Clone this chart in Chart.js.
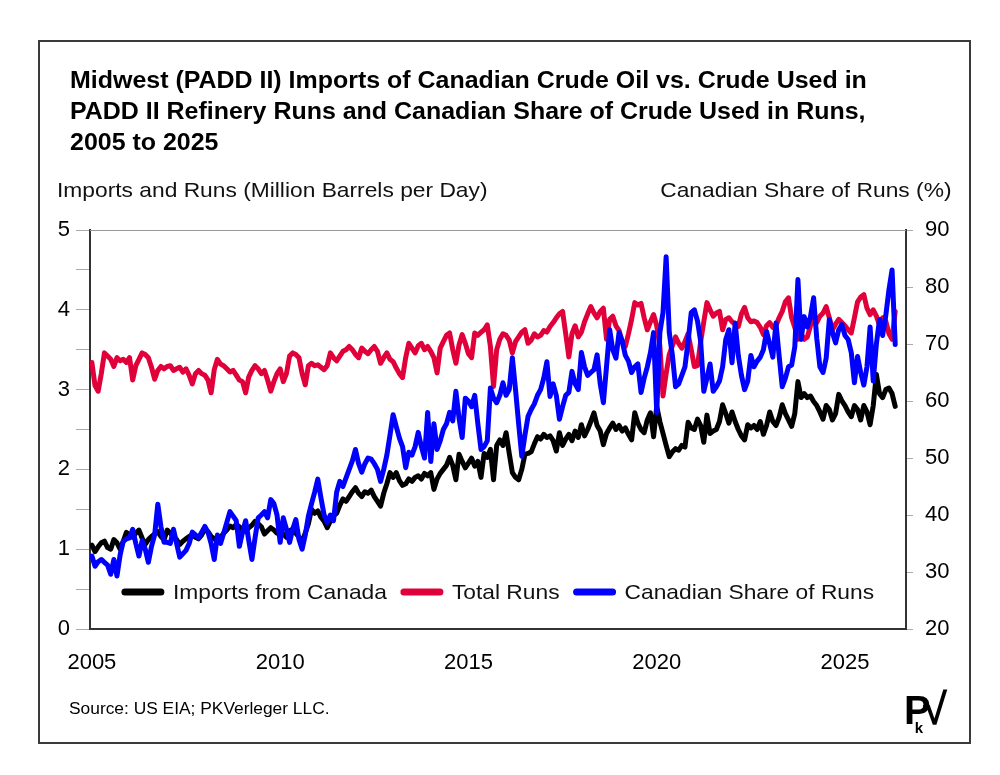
<!DOCTYPE html>
<html>
<head>
<meta charset="utf-8">
<script src="https://cdn.jsdelivr.net/npm/chart.js@4.4.1/dist/chart.umd.min.js"></script>
<style>
  body { margin: 0; background: #fff; font-family: 'Liberation Sans', Arial, sans-serif; }
  #wrap { position: relative; width: 1000px; height: 775px; }
  #chart { position: absolute; left: 0; top: 0; }
  .frame { position: absolute; left: 38px; top: 40px; width: 929px; height: 700px; border: 2px solid #3a3a3a; }
  .wide { transform: scaleX(1.085); white-space: nowrap; }
  .title { position: absolute; left: 70px; top: 65px; font-weight: bold; font-size: 23px; line-height: 31px; color: #000; transform-origin: left top; }
  .axis-title { position: absolute; top: 178px; font-size: 21px; color: #111; }
  .source { position: absolute; left: 69px; top: 700px; font-size: 16px; color: #000; transform-origin: left top; }
  .logo { position: absolute; left: 904px; top: 684px; font-weight: bold; color: #000; }
</style>
</head>
<body>
<div id="wrap">
  <canvas id="chart" width="1000" height="775"></canvas>
  <div class="frame"></div>
  <div class="title wide">Midwest (PADD II) Imports of Canadian Crude Oil vs. Crude Used in<br>PADD II Refinery Runs and Canadian Share of Crude Used in Runs,<br>2005 to 2025</div>
  <div class="axis-title wide" style="left:57px;transform-origin:left top;">Imports and Runs (Million Barrels per Day)</div>
  <div class="axis-title wide" style="right:49px;transform-origin:right top;">Canadian Share of Runs (%)</div>
  <div class="source wide">Source: US EIA; PKVerleger LLC.</div>
  <div class="logo"><span style="font-size:40px;letter-spacing:-2px;">P</span><span style="font-size:15px;position:relative;left:-14px;top:9px;">k</span><span style="font-size:44px;position:relative;left:-14px;">&#8730;</span></div>
</div>
<script>
// Monthly series, starting January 2005
const START_YEAR = 2005;

// Imports from Canada (million b/d)
const imports = [
  1.05, 0.97, 1.03, 1.08, 1.10, 1.02, 1.00, 1.12, 1.08, 1.00, 1.10, 1.21,
  1.18, 1.15, 1.20, 1.24, 1.14, 1.06, 1.12, 1.16, 1.19, 1.22, 1.16, 1.12,
  1.24, 1.20, 1.16, 1.12, 1.06, 1.10, 1.13, 1.16, 1.18, 1.15, 1.13, 1.18,
  1.25, 1.22, 1.16, 1.13, 1.10, 1.15, 1.20, 1.24, 1.29, 1.27, 1.31, 1.28,
  1.24, 1.22, 1.27, 1.30, 1.35, 1.32, 1.28, 1.19, 1.23, 1.27, 1.24, 1.20,
  1.22, 1.19, 1.15, 1.23, 1.25, 1.20, 1.15, 1.10, 1.20, 1.32, 1.50, 1.45,
  1.48, 1.40, 1.35, 1.27, 1.35, 1.42, 1.45, 1.55, 1.63, 1.60, 1.66, 1.72,
  1.77, 1.70, 1.66, 1.72, 1.70, 1.74, 1.66, 1.60, 1.54, 1.70, 1.82, 1.96,
  1.90, 1.96, 1.86, 1.80, 1.82, 1.88, 1.85, 1.90, 1.92, 1.88, 1.95, 1.92,
  1.96, 1.75, 1.88, 1.95, 2.00, 2.05, 2.15, 2.05, 1.87, 2.19, 2.10, 2.02,
  2.08, 2.14, 2.04, 2.10, 1.90, 2.20, 2.15, 2.25, 1.87, 2.30, 2.37, 2.30,
  2.46, 2.20, 1.96, 1.90, 1.87, 2.00, 2.19, 2.20, 2.22, 2.32, 2.41, 2.38,
  2.44, 2.40, 2.42, 2.36, 2.23, 2.46, 2.30, 2.38, 2.44, 2.36, 2.48, 2.40,
  2.56, 2.42, 2.50, 2.60, 2.71, 2.55, 2.48, 2.31, 2.45, 2.52, 2.58, 2.50,
  2.55, 2.48, 2.52, 2.44, 2.37, 2.71, 2.58, 2.50, 2.46, 2.62, 2.71, 2.41,
  2.79, 2.60, 2.45, 2.30, 2.16, 2.22, 2.26, 2.24, 2.30, 2.28, 2.59, 2.52,
  2.50, 2.63, 2.55, 2.34, 2.68, 2.45, 2.48, 2.50, 2.60, 2.81, 2.70, 2.58,
  2.72, 2.60, 2.50, 2.42, 2.37, 2.56, 2.52, 2.55, 2.50, 2.60, 2.44, 2.55,
  2.72, 2.60, 2.55, 2.65, 2.81, 2.70, 2.62, 2.54, 2.70, 3.10, 2.90, 2.95,
  2.90, 2.92, 2.85, 2.80, 2.72, 2.63, 2.80, 2.75, 2.62, 2.70, 2.94, 2.86,
  2.80, 2.72, 2.66, 2.80, 2.75, 2.62, 2.80, 2.72, 2.56, 2.80, 3.19, 2.95,
  2.90, 3.00, 3.02, 2.95, 2.79
];

// Total PADD II refinery runs (million b/d)
const runs = [
  3.34, 3.05, 2.98, 3.20, 3.46, 3.42, 3.38, 3.29, 3.40, 3.36, 3.38, 3.34,
  3.40, 3.12, 3.30, 3.38, 3.46, 3.44, 3.40, 3.28, 3.13, 3.24, 3.29, 3.26,
  3.29, 3.30, 3.24, 3.26, 3.28, 3.22, 3.26, 3.18, 3.07, 3.20, 3.24, 3.20,
  3.18, 3.12, 2.96, 3.25, 3.38, 3.32, 3.30, 3.26, 3.22, 3.24, 3.18, 3.12,
  3.10, 2.96, 3.16, 3.24, 3.30, 3.26, 3.20, 3.24, 3.12, 2.98, 3.10, 3.20,
  3.26, 3.10, 3.20, 3.42, 3.46, 3.44, 3.40, 3.20, 3.06, 3.30, 3.33, 3.30,
  3.31, 3.28, 3.25, 3.30, 3.46, 3.40, 3.36, 3.42, 3.48, 3.50, 3.54, 3.50,
  3.44, 3.40, 3.52, 3.48, 3.45, 3.50, 3.54, 3.48, 3.33, 3.40, 3.46, 3.38,
  3.35, 3.27, 3.20, 3.15, 3.40, 3.58, 3.52, 3.46, 3.55, 3.58, 3.50, 3.54,
  3.48, 3.40, 3.21, 3.52, 3.60, 3.68, 3.71, 3.50, 3.33, 3.56, 3.69, 3.58,
  3.45, 3.40, 3.71, 3.68, 3.72, 3.75, 3.81, 3.54, 3.04, 3.50, 3.63, 3.70,
  3.68, 3.62, 3.46, 3.60, 3.66, 3.72, 3.75, 3.58, 3.62, 3.70, 3.66, 3.68,
  3.74, 3.72, 3.79, 3.84, 3.90, 3.95, 3.98, 3.70, 3.41, 3.70, 3.80, 3.66,
  3.72, 3.85, 3.95, 4.04, 3.96, 3.90, 3.98, 4.02, 3.63, 3.88, 3.92, 3.80,
  3.74, 3.60, 3.54, 3.70, 3.88, 4.09, 4.06, 4.08, 3.90, 3.75, 3.85, 3.94,
  3.80, 3.55, 2.92, 3.20, 3.44, 3.55, 3.66, 3.58, 3.52, 3.60, 3.70, 3.50,
  3.29, 3.30, 3.60, 3.85, 4.09, 4.00, 3.92, 3.96, 3.98, 3.75, 3.88, 3.90,
  3.85, 3.82, 3.79, 3.95, 4.03, 3.90, 3.85, 3.86, 3.84, 3.78, 3.69, 3.80,
  3.84, 3.78, 3.80, 3.90, 3.98, 4.10, 4.15, 3.90, 3.78, 3.63, 3.70, 3.63,
  3.66, 3.80, 3.88, 3.84, 3.92, 3.96, 4.04, 3.90, 3.75, 3.82, 3.88, 3.84,
  3.80, 3.75, 3.71, 3.90, 4.10, 4.16, 4.19, 4.02, 3.94, 4.00, 3.92, 3.81,
  3.90, 3.86, 3.70, 3.63, 3.98
];

// Canadian share of runs (%)
const share = [
  32.8, 31.0, 31.8, 32.2, 31.7, 31.2, 29.6, 32.2, 29.3, 33.0, 35.4, 35.8,
  36.0, 37.5, 35.0, 32.8, 35.5, 34.0, 31.7, 34.5, 36.5, 41.9, 38.0, 35.2,
  35.2, 35.0, 37.5, 35.0, 32.6, 33.2, 33.8, 35.0, 37.0, 36.5, 36.0, 37.0,
  38.0, 37.0, 35.0, 32.2, 36.5, 35.0, 36.8, 38.7, 40.6, 39.8, 39.0, 34.5,
  37.0, 39.0, 35.5, 32.2, 36.0, 39.5, 40.0, 40.6, 39.5, 42.7, 42.0, 40.0,
  35.2, 39.5, 37.5, 35.2, 37.5, 39.2, 35.7, 34.0, 36.5, 39.8, 42.0, 44.0,
  46.3, 43.0, 40.0, 38.7, 40.0, 39.0, 44.0, 45.9, 45.0, 46.5, 48.0, 49.5,
  51.5, 49.0, 47.5, 49.0, 50.0, 49.8, 49.0, 48.0, 45.9, 48.0, 50.5, 54.0,
  57.6, 55.5, 53.5, 52.0, 48.3, 51.0, 50.5, 52.0, 54.5, 52.0, 50.0, 58.0,
  49.4, 56.0, 51.5, 53.0, 55.0, 56.0, 58.0, 56.5, 61.7, 57.0, 53.6, 60.5,
  60.0, 59.0, 61.0, 56.0, 51.5, 52.0, 53.0, 62.3, 60.5, 59.7, 61.0, 63.2,
  61.0, 62.0, 67.6, 62.0, 56.0, 50.3, 54.0, 57.3, 58.5, 59.5, 61.0, 62.0,
  64.0, 66.9, 60.8, 63.0, 61.0, 56.8, 59.0, 61.0, 61.5, 65.2, 63.0, 62.0,
  68.5, 66.0, 64.5, 65.0, 65.5, 68.1, 63.0, 59.7, 66.0, 72.5, 69.0, 67.5,
  72.0, 70.5, 68.0, 67.0, 65.0, 66.0, 66.5, 61.5, 64.0, 66.0, 68.5, 72.0,
  58.0, 72.0, 75.5, 85.3, 72.0, 68.0, 62.5, 63.0, 64.5, 66.0, 70.5, 75.5,
  76.0, 74.0, 70.5, 61.7, 64.0, 66.5, 61.7, 62.5, 63.5, 66.0, 70.8, 72.5,
  66.7, 73.7, 68.0, 64.5, 62.0, 63.5, 68.0, 66.0, 67.0, 67.7, 69.0, 72.2,
  70.0, 67.7, 73.7, 68.0, 62.5, 64.0, 66.0, 66.3, 69.5, 81.3, 70.8, 74.8,
  73.0, 74.8, 78.1, 71.0, 66.0, 65.0, 67.5, 74.3, 72.0, 70.2, 72.5, 73.4,
  71.5, 70.8, 68.5, 63.2, 67.8, 65.0, 62.8, 66.0, 73.0, 63.5, 70.0, 74.3,
  71.5, 75.0, 79.5, 83.0, 69.9
];

const xTicks = [2005, 2010, 2015, 2020, 2025];
const seriesLabels = ['Imports from Canada', 'Total Runs', 'Canadian Share of Runs'];
const seriesColors = ['#000000', '#E0003A', '#0000FF'];

const FONT = "'Liberation Sans', Arial, sans-serif";
const STRETCH = 1.085; // el original usa una Arial algo más ancha

function toPoints(values) {
    return values.map((v, i) => ({ x: START_YEAR + i / 12, y: v }));
}

// marco del área de gráfico (línea superior gris)
const plotFrame = {
    id: 'plotFrame',
    beforeDatasetsDraw(chart) {
        const { ctx, chartArea } = chart;
        ctx.save();
        ctx.strokeStyle = '#999';
        ctx.lineWidth = 1;
        ctx.beginPath();
        ctx.moveTo(chartArea.left, chartArea.top + 0.5);
        ctx.lineTo(chartArea.right, chartArea.top + 0.5);
        ctx.stroke();
        ctx.restore();
    }
};

// leyenda dentro del área, centrada abajo
const inlineLegend = {
    id: 'inlineLegend',
    afterDatasetsDraw(chart) {
        const { ctx, chartArea } = chart;
        const sample = 42, gapText = 9, gapItem = 14;
        ctx.save();
        ctx.font = '21px ' + FONT;
        const widths = seriesLabels.map(l => ctx.measureText(l).width * STRETCH);
        const total = widths.reduce((s, w) => s + sample + gapText + w, 0) + gapItem * (seriesLabels.length - 1);
        let x = (chartArea.left + chartArea.right) / 2 - total / 2;
        const y = 592;
        seriesLabels.forEach((label, i) => {
            ctx.strokeStyle = seriesColors[i];
            ctx.lineWidth = 7;
            ctx.lineCap = 'round';
            ctx.beginPath();
            ctx.moveTo(x + 3, y);
            ctx.lineTo(x + sample - 3, y);
            ctx.stroke();
            ctx.save();
            ctx.translate(x + sample + gapText, y + 1);
            ctx.scale(STRETCH, 1);
            ctx.fillStyle = '#111';
            ctx.textBaseline = 'middle';
            ctx.fillText(label, 0, 0);
            ctx.restore();
            x += sample + gapText + widths[i] + gapItem;
        });
        ctx.restore();
    }
};

const ctx = document.getElementById('chart').getContext('2d');
new Chart(ctx, {
    type: 'line',
    data: {
        datasets: [
            { label: seriesLabels[0], data: toPoints(imports), borderColor: seriesColors[0], yAxisID: 'y', order: 2 },
            { label: seriesLabels[1], data: toPoints(runs), borderColor: seriesColors[1], yAxisID: 'y', order: 1 },
            { label: seriesLabels[2], data: toPoints(share), borderColor: seriesColors[2], yAxisID: 'y2', order: 0 }
        ]
    },
    options: {
        responsive: false,
        animation: false,
        devicePixelRatio: 1,
        layout: { padding: { top: 230, left: 0, right: 0, bottom: 0 } },
        elements: {
            point: { radius: 0 },
            line: { borderWidth: 5, tension: 0, borderJoinStyle: 'round', borderCapStyle: 'round' }
        },
        plugins: { legend: { display: false }, tooltip: { enabled: false } },
        scales: {
            x: {
                type: 'linear',
                min: 2004.95,
                max: 2026.62,
                afterBuildTicks: (s) => { s.ticks = xTicks.map(v => ({ value: v })); },
                afterFit: (s) => { s.height = 146; },
                grid: { display: false, drawTicks: false },
                border: { display: true, color: '#333', width: 2 },
                ticks: { padding: 21, color: '#000', font: { family: FONT, size: 22 }, maxRotation: 0, autoSkip: false, callback: (v) => String(v) }
            },
            y: {
                position: 'left',
                min: 0,
                max: 5,
                afterFit: (s) => { s.width = 90; },
                grid: { drawOnChartArea: false, drawTicks: true, tickLength: 14, color: '#aaa' },
                border: { display: true, color: '#333', width: 2 },
                ticks: { stepSize: 0.5, padding: 6, color: '#000', font: { family: FONT, size: 22 }, callback: (v) => Number.isInteger(v) ? String(v) : '' }
            },
            y2: {
                position: 'right',
                min: 20,
                max: 90,
                afterFit: (s) => { s.width = 94; },
                grid: { drawOnChartArea: false, drawTicks: true, tickLength: 7, color: '#aaa' },
                border: { display: true, color: '#333', width: 2 },
                ticks: { stepSize: 5, padding: 12, color: '#000', font: { family: FONT, size: 22 }, callback: (v) => v % 10 === 0 ? String(v) : '' }
            }
        }
    },
    plugins: [plotFrame, inlineLegend]
});
</script>
</body>
</html>
